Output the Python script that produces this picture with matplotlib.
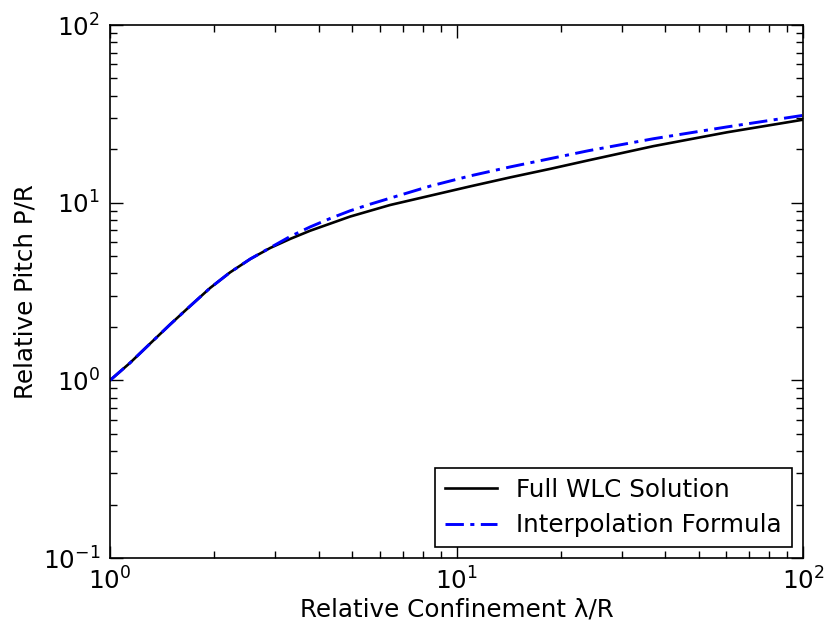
import matplotlib
matplotlib.use("Agg")
import matplotlib.pyplot as plt
from matplotlib.ticker import LogLocator, NullFormatter

# Full WLC solution
wlc_x = [1.0, 1.142, 1.305, 1.49, 1.70, 1.945, 2.22, 2.54, 2.90, 3.31, 3.78,
         4.32, 4.93, 5.63, 6.43, 8.40, 10.95, 14.3, 18.65, 24.0, 37.0, 60.4, 100.0]
wlc_y = [1.0, 1.253, 1.609, 2.06, 2.61, 3.31, 4.05, 4.82, 5.56, 6.25, 6.95,
         7.62, 8.35, 9.0, 9.7, 10.95, 12.35, 13.88, 15.5, 17.3, 20.8, 24.9, 29.3]

# Interpolation formula
interp_x = [1.0, 1.142, 1.305, 1.49, 1.70, 1.945, 2.22, 2.54, 2.90, 3.31, 3.78,
            4.32, 4.93, 5.63, 6.43, 8.40, 10.95, 14.3, 18.65, 24.0, 37.0, 60.4, 100.0]
interp_y = [1.0, 1.253, 1.609, 2.06, 2.61, 3.31, 4.05, 4.82, 5.58, 6.45, 7.3,
            8.15, 9.0, 9.8, 10.6, 12.4, 14.15, 15.9, 17.7, 19.6, 22.9, 26.7, 31.0]

labels = ["Full WLC Solution", "Interpolation Formula"]
xlabel = "Relative Confinement λ/R"
ylabel = "Relative Pitch P/R"

plt.rcParams['font.family'] = ['DejaVu Sans']
plt.rcParams['mathtext.fontset'] = 'dejavusans'

FS = 17.7

fig = plt.figure(figsize=(8.26, 6.23), dpi=100)
ax = fig.add_axes([110/826, 65/623, 693/826, 533/623])

ax.plot(wlc_x, wlc_y, color='black', lw=1.9, label=labels[0])
ax.plot(interp_x, interp_y, color='blue', lw=2.1, ls='-.', dashes=(6.3, 2.2, 1.4, 2.2), label=labels[1])

ax.set_xscale('log')
ax.set_yscale('log')
ax.set_xlim(1, 100)
ax.set_ylim(0.1, 100)

ax.tick_params(which='both', direction='in', top=True, right=True, labelsize=FS)
ax.tick_params(which='major', length=9, width=1.0, pad=7)
ax.tick_params(which='minor', length=5, width=1.0)
ax.xaxis.set_minor_locator(LogLocator(base=10, subs=range(2, 10)))
ax.yaxis.set_minor_locator(LogLocator(base=10, subs=range(2, 10)))
ax.xaxis.set_minor_formatter(NullFormatter())
ax.yaxis.set_minor_formatter(NullFormatter())
for s in ax.spines.values():
    s.set_linewidth(1.2)

ax.set_xlabel(xlabel, fontsize=FS, labelpad=2)
ax.set_ylabel(ylabel, fontsize=FS, labelpad=4)

leg = ax.legend(loc='lower right', fontsize=FS, fancybox=False, framealpha=1,
                edgecolor='black', handlelength=2.1, borderaxespad=0.45,
                labelspacing=0.45)
leg.get_frame().set_linewidth(1.2)

fig.savefig('out.png', dpi=100, facecolor='white')
